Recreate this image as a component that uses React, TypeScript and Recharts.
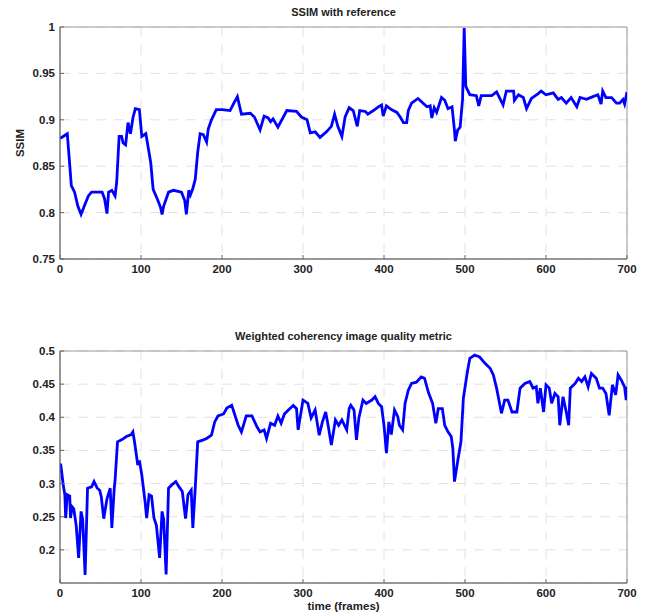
import React from "react";
import {
  CartesianGrid,
  Line,
  LineChart,
  ReferenceArea,
  XAxis,
  YAxis,
} from "recharts";

// frames and values
const ssimFrames = [
  0, 2, 9, 14, 18, 22, 26, 30, 35, 39, 52, 55, 58, 60, 64, 68, 70, 73, 76, 78,
  81, 84, 87, 90, 93, 98, 101, 106, 112, 115, 120, 124, 126, 128, 134, 140, 150,
  154, 156, 159, 161, 164, 167, 170, 173, 177, 181, 183, 187, 193, 200, 210, 214,
  219, 224, 235, 240, 247, 252, 257, 260, 263, 269, 280, 292, 298, 305, 309, 315,
  321, 329, 335, 339, 343, 348, 352, 357, 362, 367, 370, 377, 380, 387, 393, 397,
  399, 403, 409, 416, 420, 424, 428, 430, 434, 442, 448, 453, 457, 459, 462, 465,
  471, 475, 479, 484, 487, 488, 491, 494, 497, 499, 501, 506, 514, 517, 520, 533,
  539, 547, 551, 560, 561, 566, 572, 576, 582, 590, 594, 600, 609, 615, 619, 625,
  631, 638, 642, 650, 658, 664, 668, 670, 674, 681, 687, 691, 695, 697, 700,
];
const ssimValues = [
  0.88, 0.881, 0.885, 0.829, 0.822, 0.807, 0.798, 0.807, 0.818, 0.822, 0.822,
  0.815, 0.799, 0.822, 0.824, 0.818, 0.833, 0.882, 0.882, 0.875, 0.873, 0.897,
  0.885, 0.902, 0.912, 0.911, 0.882, 0.885, 0.854, 0.825, 0.815, 0.806, 0.798,
  0.807, 0.822, 0.824, 0.822, 0.813, 0.798, 0.824, 0.819, 0.826, 0.836, 0.865,
  0.885, 0.884, 0.876, 0.89, 0.9, 0.911, 0.911, 0.91, 0.917, 0.925, 0.906,
  0.907, 0.903, 0.889, 0.904, 0.902, 0.898, 0.901, 0.892, 0.91, 0.909, 0.903,
  0.9, 0.886, 0.887, 0.881, 0.887, 0.893, 0.906, 0.893, 0.882, 0.903, 0.913,
  0.91, 0.893, 0.91, 0.909, 0.906, 0.91, 0.914, 0.916, 0.904, 0.915, 0.911,
  0.908, 0.903, 0.897, 0.897, 0.91, 0.918, 0.923, 0.918, 0.914, 0.915, 0.902,
  0.913, 0.908, 0.924, 0.921, 0.912, 0.914, 0.889, 0.877, 0.889, 0.892, 0.922,
  0.999, 0.936, 0.927, 0.926, 0.915, 0.926, 0.926, 0.93, 0.916, 0.931, 0.931,
  0.921, 0.927, 0.924, 0.912, 0.923, 0.928, 0.931, 0.927, 0.929, 0.922, 0.924,
  0.918, 0.924, 0.914, 0.924, 0.922, 0.925, 0.927, 0.917, 0.931, 0.924, 0.924,
  0.918, 0.918, 0.922, 0.917, 0.93,
];

const wcFrames = [
  0, 1, 4, 6, 7, 9, 12, 13, 15, 17, 20, 23, 26, 28, 31, 34, 39, 42, 46, 49, 51,
  54, 58, 62, 64, 67, 68, 71, 76, 82, 88, 90, 92, 96, 98, 101, 105, 107, 110,
  113, 116, 119, 123, 126, 128, 131, 134, 138, 143, 147, 151, 155, 158, 162,
  164, 167, 170, 177, 181, 187, 191, 195, 202, 206, 212, 216, 220, 224, 230,
  237, 243, 247, 252, 255, 260, 265, 269, 273, 277, 282, 288, 292, 294, 300,
  306, 310, 315, 320, 324, 328, 331, 335, 340, 344, 348, 354, 357, 359, 363,
  366, 369, 374, 378, 385, 389, 393, 397, 400, 403, 406, 409, 413, 417, 419,
  423, 426, 430, 434, 440, 446, 450, 455, 460, 464, 467, 472, 475, 479, 483,
  485, 487, 489, 491, 495, 498, 503, 506, 512, 518, 525, 531, 535, 539, 545,
  549, 553, 558, 564, 568, 574, 580, 584, 588, 590, 593, 597, 600, 604, 607,
  611, 615, 617, 621, 625, 628, 630, 636, 640, 644, 648, 652, 656, 662, 666,
  670, 674, 678, 682, 686, 689, 693, 697, 699, 700,
];
const wcValues = [
  0.33, 0.328, 0.298, 0.283, 0.248, 0.283, 0.281, 0.248, 0.265, 0.262, 0.237,
  0.188, 0.258, 0.246, 0.162, 0.293, 0.295, 0.303, 0.293, 0.29, 0.28, 0.247,
  0.277, 0.293, 0.233, 0.293, 0.305, 0.363, 0.366, 0.371, 0.374, 0.378, 0.363,
  0.328, 0.335, 0.313, 0.273, 0.248, 0.283, 0.281, 0.248, 0.237, 0.188, 0.258,
  0.246, 0.163, 0.293, 0.298, 0.303, 0.295, 0.288, 0.247, 0.283, 0.29, 0.233,
  0.294, 0.363, 0.366, 0.368, 0.373, 0.393, 0.402, 0.405, 0.414, 0.418, 0.403,
  0.388, 0.378, 0.402, 0.402, 0.386, 0.378, 0.381, 0.368, 0.391, 0.388, 0.402,
  0.391, 0.405, 0.411, 0.418, 0.413, 0.381, 0.426, 0.421, 0.399, 0.411, 0.373,
  0.393, 0.408, 0.388, 0.358, 0.396, 0.388, 0.396, 0.381, 0.413, 0.418, 0.411,
  0.366, 0.399, 0.426, 0.421, 0.426, 0.431, 0.421, 0.416, 0.388, 0.346, 0.393,
  0.374, 0.411, 0.401, 0.388, 0.381, 0.421, 0.441, 0.451, 0.453, 0.461, 0.459,
  0.437, 0.421, 0.391, 0.413, 0.413, 0.388, 0.378, 0.371, 0.353, 0.303, 0.318,
  0.334, 0.363, 0.429, 0.469, 0.489, 0.494, 0.491, 0.481, 0.474, 0.464, 0.444,
  0.406, 0.426, 0.426, 0.408, 0.408, 0.444, 0.451, 0.454, 0.444, 0.446, 0.421,
  0.444, 0.408, 0.449, 0.444, 0.421, 0.436, 0.431, 0.388, 0.431, 0.408, 0.388,
  0.444, 0.451, 0.459, 0.454, 0.461, 0.446, 0.466, 0.459, 0.444, 0.444, 0.436,
  0.403, 0.449, 0.434, 0.464, 0.456, 0.446, 0.426, 0.446,
];

const frameTicks = [0, 100, 200, 300, 400, 500, 600, 700];
const ssimTicks = [0.75, 0.8, 0.85, 0.9, 0.95, 1];
const wcTicks = [0.2, 0.25, 0.3, 0.35, 0.4, 0.45, 0.5];

const ssimData = ssimFrames.map((f, i) => ({ frame: f, v: ssimValues[i] }));
const wcData = wcFrames.map((f, i) => ({ frame: f, v: wcValues[i] }));

const FONT = "'Liberation Sans', Arial, sans-serif";
const tickText = { fontSize: 11.5, fontWeight: 700, fill: "#222", fontFamily: FONT };

function BottomTick(props: any) {
  const { x, y, payload } = props;
  return (
    <g>
      <line x1={x} x2={x} y1={y} y2={y - 4} stroke="#666" />
      <text x={x} y={y + 14} textAnchor="middle" {...tickText}>
        {payload.value}
      </text>
    </g>
  );
}

function LeftTick(props: any) {
  const { x, y, payload } = props;
  return (
    <g>
      <line x1={x} x2={x + 4} y1={y} y2={y} stroke="#666" />
      <text x={x - 5} y={y + 4} textAnchor="end" {...tickText}>
        {payload.value}
      </text>
    </g>
  );
}

function TopTick(props: any) {
  const { x, y } = props;
  return <line x1={x} x2={x} y1={y} y2={y + 4} stroke="#888" />;
}

function RightTick(props: any) {
  const { x, y } = props;
  return <line x1={x} x2={x - 4} y1={y} y2={y} stroke="#888" />;
}

interface PanelProps {
  data: { frame: number; v: number }[];
  domain: [number, number];
  yTicks: number[];
  top: number;
  marginTop: number;
  xLabel?: string;
}

function Panel({ data, domain, yTicks, top, marginTop, xLabel }: PanelProps) {
  return (
    <div style={{ position: "absolute", left: 0, top }}>
      <LineChart
        width={652}
        height={300}
        data={data}
        margin={{ top: marginTop, right: 25, left: 0, bottom: 0 }}
      >
        <CartesianGrid strokeDasharray="10 8" stroke="#e2e2e2" />
        <XAxis
          dataKey="frame"
          type="number"
          domain={[0, 700]}
          ticks={frameTicks}
          allowDataOverflow
          height={300 - marginTop - 232}
          tickSize={0}
          tickMargin={0}
          tickLine={false}
          axisLine={{ stroke: "#666" }}
          tick={<BottomTick />}
          interval={0}
        />
        <XAxis
          xAxisId="top"
          orientation="top"
          type="number"
          domain={[0, 700]}
          ticks={frameTicks}
          height={0}
          tickSize={0}
          tickLine={false}
          axisLine={false}
          tick={<TopTick />}
          interval={0}
        />
        <YAxis
          type="number"
          domain={domain}
          ticks={yTicks}
          allowDataOverflow
          width={60}
          tickSize={0}
          tickMargin={0}
          tickLine={false}
          axisLine={{ stroke: "#666" }}
          tick={<LeftTick />}
          interval={0}
        />
        <YAxis
          yAxisId="right"
          orientation="right"
          type="number"
          domain={domain}
          ticks={yTicks}
          width={0}
          tickSize={0}
          tickLine={false}
          axisLine={false}
          tick={<RightTick />}
          interval={0}
        />
        <ReferenceArea
          x1={0}
          x2={700}
          y1={domain[0]}
          y2={domain[1]}
          fill="none"
          stroke="#9a9a9a"
          ifOverflow="extendDomain"
        />
        <Line
          dataKey="v"
          type="linear"
          stroke="#0000ff"
          strokeWidth={2.8}
          dot={false}
          isAnimationActive={false}
        />
      </LineChart>
      {xLabel ? (
        <div
          style={{
            position: "absolute",
            left: 60,
            width: 567,
            top: 284,
            textAlign: "center",
            fontFamily: FONT,
            fontWeight: 700,
            fontSize: 11.5,
            color: "#222",
          }}
        >
          {xLabel}
        </div>
      ) : null}
    </div>
  );
}

const titleStyle: React.CSSProperties = {
  position: "absolute",
  left: 60,
  width: 567,
  textAlign: "center",
  fontFamily: FONT,
  fontWeight: 700,
  fontSize: 11,
  color: "#222",
};

export default function App() {
  return (
    <div
      style={{
        position: "absolute",
        left: 0,
        top: 0,
        width: 652,
        height: 616,
        background: "#fff",
      }}
    >
      <div style={{ ...titleStyle, top: 6 }}>SSIM with reference</div>
      <Panel data={ssimData} domain={[0.75, 1]} yTicks={ssimTicks} top={0} marginTop={27} />
      <div
        style={{
          position: "absolute",
          left: 4,
          top: 137,
          width: 32,
          textAlign: "center",
          transform: "rotate(-90deg)",
          fontFamily: FONT,
          fontWeight: 700,
          fontSize: 11.5,
          color: "#222",
        }}
      >
        SSIM
      </div>
      <div style={{ ...titleStyle, top: 330 }}>Weighted coherency image quality metric</div>
      <Panel
        data={wcData}
        domain={[0.15, 0.5]}
        yTicks={wcTicks}
        top={316}
        marginTop={35}
        xLabel="time (frames)"
      />
    </div>
  );
}
